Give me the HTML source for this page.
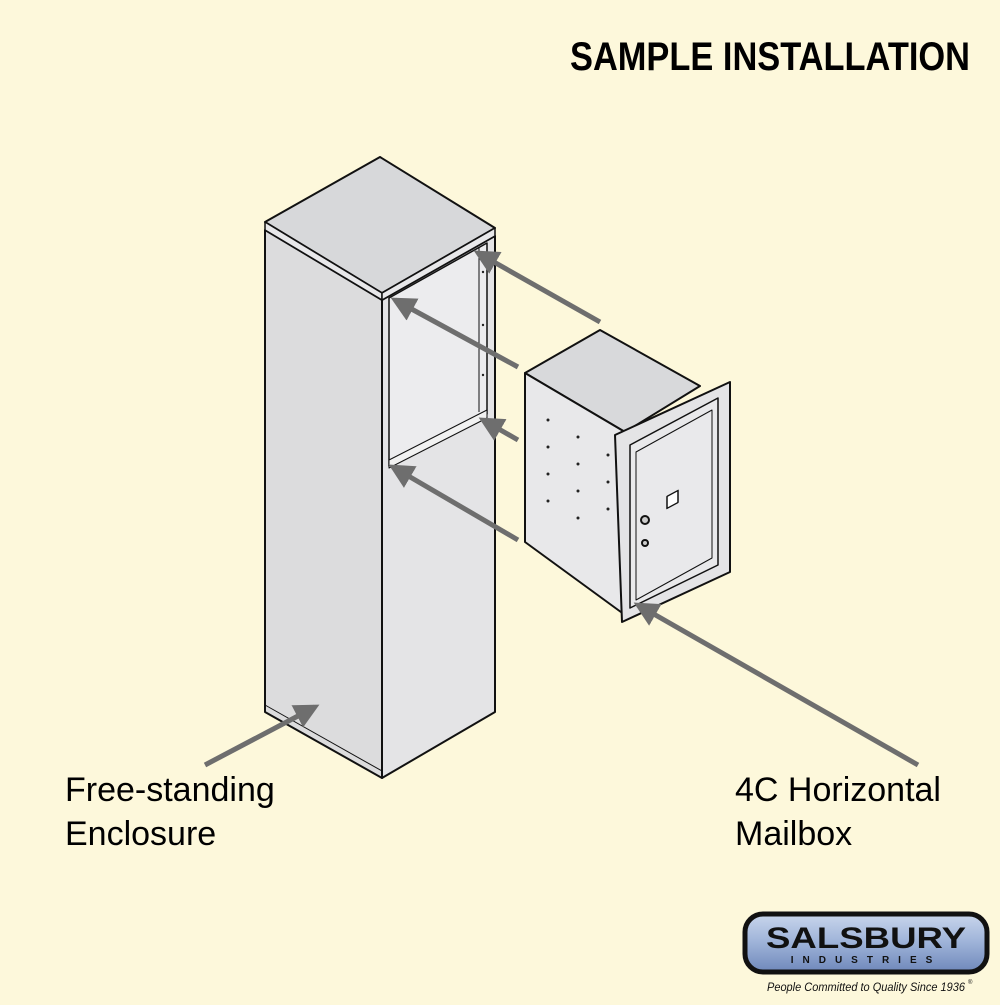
<!DOCTYPE html>
<html><head><style>
body{margin:0;width:1000px;height:1000px;background:#fdf8db;overflow:hidden;font-family:"Liberation Sans",sans-serif}
</style></head><body>
<svg width="1000" height="1000" viewBox="0 0 1000 1000" xmlns="http://www.w3.org/2000/svg">
<rect width="1000" height="1000" fill="#fdf8db"/>
<defs>
<marker id="ah" viewBox="0 0 10 10" refX="8" refY="5" markerWidth="5" markerHeight="5" orient="auto-start-reverse"><path d="M0,0 L10,5 L0,10 z" fill="#6e6e6e"/></marker>
<linearGradient id="lg" x1="0" y1="0" x2="0" y2="1"><stop offset="0" stop-color="#c9d6ec"/><stop offset="0.5" stop-color="#9db2d8"/><stop offset="1" stop-color="#6f88bb"/></linearGradient>
</defs>
<g stroke="#111" stroke-width="2" stroke-linejoin="round">
<!-- enclosure -->
<polygon points="265,230 382,300 382,778 265,712" fill="#dcdcdd"/>
<polygon points="382,300 495,236 495,712 382,778" fill="#e4e4e6"/>
<polygon points="265,222 380,157 495,228 382,293" fill="#d7d8da"/>
<polygon points="265,222 382,293 382,300 265,230" fill="#e8e8ea" stroke-width="1.5"/>
<polygon points="382,293 495,228 495,236 382,300" fill="#e8e8ea" stroke-width="1.5"/>
<polygon points="389,298 487,243 487,414 389,466" fill="#ececee" stroke-width="1.5"/>
<polygon points="389,460 487,410 487,418 389,468" fill="#f2f2f2" stroke-width="1"/>
<line x1="479" y1="247" x2="479" y2="412" stroke-width="1"/>
<line x1="265" y1="705" x2="382" y2="771" stroke-width="1"/>
<!-- mailbox -->
<polygon points="525,373 600,330 700,386 625,432" fill="#d8d9db"/>
<polygon points="525,373 625,432 625,615 525,542" fill="#e8e8ea"/>
<polygon points="615,435 730,382 730,572 622,622" fill="#e4e4e6"/>
<polygon points="630,445 718,398 718,565 630,608" fill="#e9e9eb" stroke-width="1.5"/>
<polygon points="636,452 712,410 712,558 636,600" fill="none" stroke-width="1"/>
<rect x="667" y="497" width="11" height="12" fill="#fff" transform="skewY(-28) translate(0,354)" stroke-width="1.5"/>
<circle cx="645" cy="520" r="4" fill="#ccc"/>
<circle cx="645" cy="543" r="3" fill="#ccc"/>
</g>
<g fill="#222">
<circle cx="548" cy="420" r="1.5"/><circle cx="548" cy="447" r="1.5"/><circle cx="548" cy="474" r="1.5"/><circle cx="548" cy="501" r="1.5"/>
<circle cx="578" cy="437" r="1.5"/><circle cx="578" cy="464" r="1.5"/><circle cx="578" cy="491" r="1.5"/><circle cx="578" cy="518" r="1.5"/>
<circle cx="608" cy="455" r="1.5"/><circle cx="608" cy="482" r="1.5"/><circle cx="608" cy="509" r="1.5"/>
<circle cx="483" cy="272" r="1.2"/><circle cx="483" cy="325" r="1.2"/><circle cx="483" cy="375" r="1.2"/>
</g>
<!-- arrows -->
<g stroke="#6e6e6e" stroke-width="5" marker-end="url(#ah)">
<line x1="600" y1="322" x2="478" y2="253"/>
<line x1="518" y1="367" x2="395" y2="300"/>
<line x1="518" y1="440" x2="483" y2="420"/>
<line x1="518" y1="540" x2="393" y2="467"/>
<line x1="918" y1="765" x2="638" y2="605"/>
<line x1="205" y1="765" x2="315" y2="707"/>
</g>
<text x="970" y="70" text-anchor="end" font-family="Liberation Sans Narrow, Liberation Sans, sans-serif" font-weight="bold" font-size="40" fill="#000" textLength="400" lengthAdjust="spacingAndGlyphs">SAMPLE INSTALLATION</text>
<g font-size="34" fill="#000">
<text x="65" y="801">Free-standing</text>
<text x="65" y="845">Enclosure</text>
<text x="735" y="801">4C Horizontal</text>
<text x="735" y="845">Mailbox</text>
</g>
<rect x="745" y="914" width="242" height="58" rx="18" fill="url(#lg)" stroke="#111" stroke-width="5"/>
<text x="866" y="948" text-anchor="middle" font-weight="bold" font-size="30" fill="#111" textLength="200" lengthAdjust="spacingAndGlyphs">SALSBURY</text>
<text x="866" y="963" text-anchor="middle" font-weight="bold" font-size="10" fill="#111" letter-spacing="9">INDUSTRIES</text>
<text x="866" y="991" text-anchor="middle" font-style="italic" font-size="11.5" fill="#111" textLength="198" lengthAdjust="spacingAndGlyphs">People Committed to Quality Since 1936</text>
<text x="968" y="984" font-size="6" fill="#111">®</text>
</svg>
</body></html>
